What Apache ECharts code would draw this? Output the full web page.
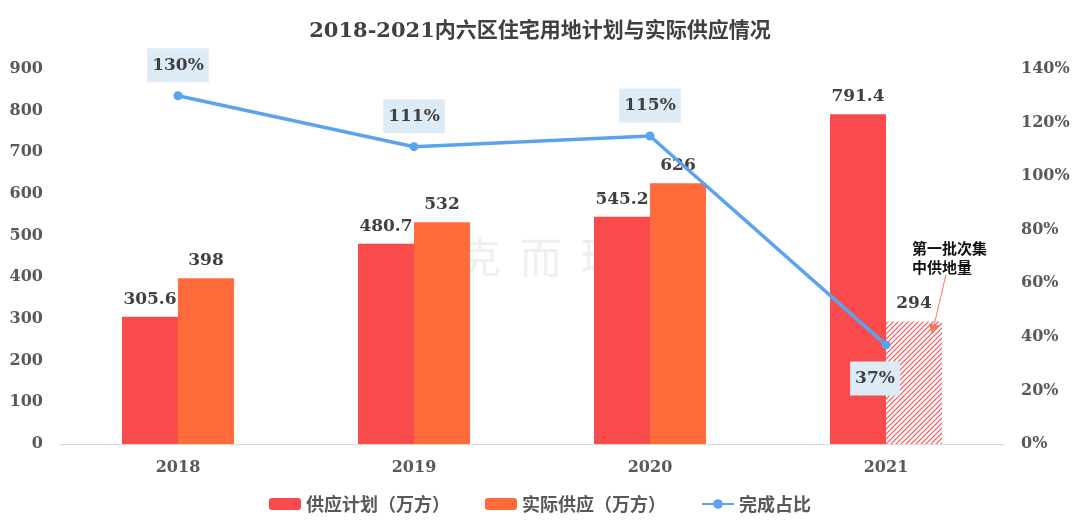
<!DOCTYPE html>
<html><head><meta charset="utf-8">
<script src="https://cdn.jsdelivr.net/npm/echarts@6/dist/echarts.min.js"></script>
<style>html,body{margin:0;padding:0;background:#fff}#c{width:1080px;height:532px}</style>
</head><body><div id="c"></div>
<script>
var categories = ['2018', '2019', '2020', '2021'];
var planValues = [305.6, 480.7, 545.2, 791.4];
var actualValues = [398, 532, 626, 294];
var ratioValues = [130, 111, 115, 37];
var leftTicks = [0, 900, 100];
var rightTicks = [0, 140, 20];

var SERIF = '"DejaVu Serif", "Noto Sans CJK SC", serif';
var CJK = '"Noto Sans CJK SC", sans-serif';
var RED = '#F94B4C', ORANGE = '#FF6B3B', BLUE = '#5BA3EC', TXT = '#404040', AX = '#595959';

function hatch() {
  var s = 5, cv = document.createElement('canvas');
  cv.width = s; cv.height = s;
  var g = cv.getContext('2d');
  g.fillStyle = '#fff'; g.fillRect(0, 0, s, s);
  g.strokeStyle = RED; g.lineWidth = 1.1;
  g.beginPath();
  g.moveTo(0, s); g.lineTo(s, 0);
  g.moveTo(-1, 1); g.lineTo(1, -1);
  g.moveTo(s - 1, s + 1); g.lineTo(s + 1, s - 1);
  g.stroke();
  return cv;
}

var chart = echarts.init(document.getElementById('c'));
var actualData = actualValues.map(function (v, i) {
  if (i === 3) return { value: v, itemStyle: { color: { image: hatch(), repeat: 'repeat' } } };
  return v;
});
var ratioData = ratioValues.map(function (v, i) {
  if (i === 3) return { value: v, label: { position: 'bottom', distance: 12, offset: [-11, 0] } };
  return v;
});
var barLabel = { show: true, position: 'top', distance: 9, fontFamily: SERIF, fontWeight: 'bold', fontSize: 17, color: TXT };

chart.setOption({
  animation: false,
  title: { text: '2018-2021内六区住宅用地计划与实际供应情况', left: 'center', top: 16,
    textStyle: { fontFamily: SERIF, fontWeight: 'bold', fontSize: 21, color: TXT } },
  grid: { left: 60, right: 76, top: 69, bottom: 88 },
  legend: { bottom: 14, left: 'center', itemWidth: 32, itemHeight: 12, itemGap: 35,
    textStyle: { fontFamily: CJK, fontWeight: 'bold', fontSize: 18, color: AX },
    data: ['供应计划（万方）', '实际供应（万方）', '完成占比'] },
  xAxis: { type: 'category', data: categories,
    axisLine: { lineStyle: { color: '#D9D9D9', width: 1 } }, axisTick: { show: false },
    axisLabel: { fontFamily: SERIF, fontWeight: 'bold', fontSize: 16, color: AX, margin: 16 } },
  yAxis: [
    { type: 'value', min: leftTicks[0], max: leftTicks[1], interval: leftTicks[2], splitLine: { show: false },
      axisLine: { show: false }, axisTick: { show: false },
      axisLabel: { fontFamily: SERIF, fontWeight: 'bold', fontSize: 16, color: AX, margin: 17 } },
    { type: 'value', min: rightTicks[0], max: rightTicks[1], interval: rightTicks[2], splitLine: { show: false },
      axisLine: { show: false }, axisTick: { show: false },
      axisLabel: { formatter: '{value}%', fontFamily: SERIF, fontWeight: 'bold', fontSize: 16, color: AX, margin: 17 } }
  ],
  series: [
    { name: '供应计划（万方）', type: 'bar', data: planValues, barWidth: 56, barGap: '0%',
      itemStyle: { color: RED }, label: barLabel },
    { name: '实际供应（万方）', type: 'bar', data: actualData, barWidth: 56, barGap: '0%',
      itemStyle: { color: ORANGE }, label: barLabel },
    { name: '完成占比', type: 'line', yAxisIndex: 1, data: ratioData, z: 5,
      symbol: 'circle', symbolSize: 9, itemStyle: { color: BLUE }, lineStyle: { color: BLUE, width: 3.5 },
      label: { show: true, position: 'top', distance: 9, formatter: '{c}%', fontFamily: SERIF, fontWeight: 'bold',
        fontSize: 17, color: TXT, backgroundColor: '#DDEBF7', padding: [9, 5, 8, 5] } }
  ]
});

var p = chart.convertToPixel({ xAxisIndex: 0, yAxisIndex: 0 }, [categories[3], actualValues[3]]);
var bx = p[0] + 28;
var wp = chart.convertToPixel({ xAxisIndex: 0, yAxisIndex: 0 }, [categories[1], 0]);
chart.setOption({
  graphic: [
    { type: 'text', left: p[0] + 26, top: p[1] - 83, z: 10,
      style: { text: '第一批次集\n中供地量', font: 'bold 15px "Noto Sans CJK SC", sans-serif', fill: '#111', lineHeight: 19 } },
    { type: 'line', z: 10, shape: { x1: bx + 32, y1: p[1] - 47, x2: bx + 20, y2: p[1] + 4 },
      style: { stroke: '#F4795A', lineWidth: 1 } },
    { type: 'polygon', z: 10, shape: { points: [[bx + 15, p[1] + 2], [bx + 25, p[1] + 4], [bx + 18, p[1] + 13]] },
      style: { fill: '#F4795A' } },
    { type: 'text', left: wp[0] + 45, top: 236, z: 0,
      style: { text: '克  而  瑞', font: '42px "Noto Sans CJK SC", sans-serif', fill: 'rgba(190,190,190,0.25)' } }
  ]
});
</script></body></html>
